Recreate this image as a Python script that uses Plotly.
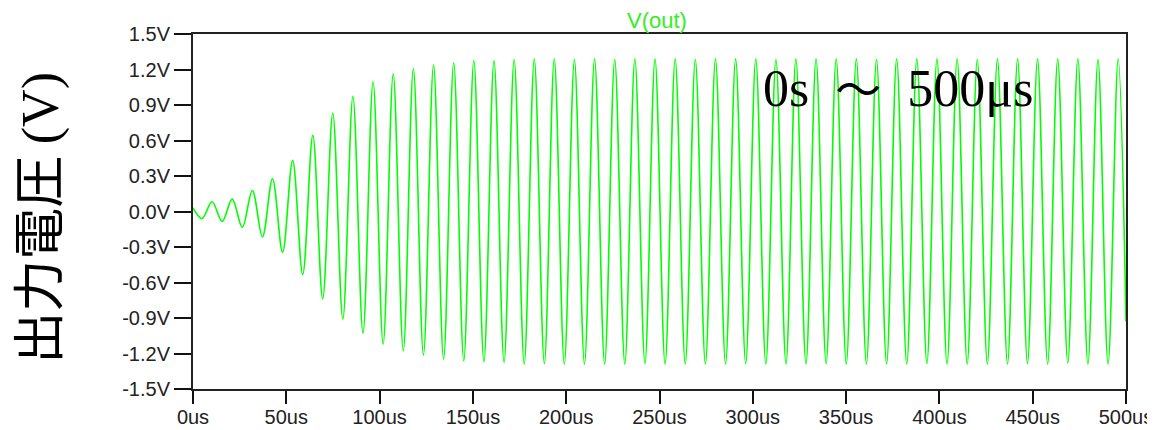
import plotly.graph_objects as go

# Extrema of the V(out) waveform (time in us, value in V)
t_us = [0.0, 4.8, 10.2, 15.6, 21.0, 26.4, 31.8, 37.2, 42.6, 48.0, 53.4,
        58.8, 64.2, 69.5, 74.9, 80.3, 85.7, 91.1, 96.5, 101.9, 107.3,
        112.7, 118.1, 123.5, 128.9, 134.3, 139.7, 145.1, 150.5, 155.9, 161.3,
        166.7, 172.1, 177.5, 182.9, 188.3, 193.6, 199.0, 204.4, 209.8, 215.2,
        220.6, 226.0, 231.4, 236.8, 242.2, 247.6, 253.0, 258.4, 263.8, 269.2,
        274.6, 280.0, 285.4, 290.8, 296.2, 301.6, 307.0, 312.4, 317.8, 323.1,
        328.5, 333.9, 339.3, 344.7, 350.1, 355.5, 360.9, 366.3, 371.7, 377.1,
        382.5, 387.9, 393.3, 398.7, 404.1, 409.5, 414.9, 420.3, 425.7, 431.1,
        436.5, 441.9, 447.2, 452.6, 458.0, 463.4, 468.8, 474.2, 479.6, 485.0,
        490.4, 495.8, 500.0]

v_out = [0.03, -0.06, 0.082, -0.084, 0.105, -0.134, 0.177, -0.215, 0.277, -0.345, 0.432,
         -0.532, 0.643, -0.739, 0.832, -0.909, 0.974, -1.028, 1.096, -1.121, 1.163,
         -1.178, 1.208, -1.214, 1.237, -1.248, 1.257, -1.263, 1.276, -1.271, 1.276,
         -1.276, 1.285, -1.29, 1.29, -1.285, 1.29, -1.29, 1.285, -1.29, 1.29,
         -1.29, 1.285, -1.29, 1.29, -1.285, 1.29, -1.29, 1.29, -1.29, 1.285,
         -1.29, 1.29, -1.29, 1.29, -1.285, 1.29, -1.29, 1.285, -1.29, 1.29,
         -1.29, 1.29, -1.285, 1.29, -1.29, 1.29, -1.29, 1.285, -1.29, 1.29,
         -1.29, 1.29, -1.285, 1.29, -1.29, 1.29, -1.29, 1.285, -1.29, 1.29,
         -1.29, 1.29, -1.285, 1.29, -1.29, 1.29, -1.28, 1.29, -1.29, 1.285,
         -1.29, 1.29, -0.93]

y_ticks = [1.5, 1.2, 0.9, 0.6, 0.3, 0.0, -0.3, -0.6, -0.9, -1.2, -1.5]
y_tick_labels = ["1.5V", "1.2V", "0.9V", "0.6V", "0.3V", "0.0V",
                 "-0.3V", "-0.6V", "-0.9V", "-1.2V", "-1.5V"]
x_ticks = [0, 50, 100, 150, 200, 250, 300, 350, 400, 450, 500]
x_tick_labels = ["0us", "50us", "100us", "150us", "200us", "250us",
                 "300us", "350us", "400us", "450us", "500us"]

fig = go.Figure()
fig.add_trace(go.Scatter(
    x=t_us, y=v_out, mode="lines",
    line=dict(color="#00ff00", width=1.6, shape="spline", smoothing=1.0),
    hoverinfo="skip", showlegend=False,
))

tick_font = dict(family="Liberation Sans, Arial, sans-serif", size=20, color="#222222")

# page body has an 8px margin, so the figure is sized to fit inside it
fig.update_layout(
    width=1147, height=422,
    margin=dict(l=185, r=29, t=26, b=41, autoexpand=False),
    paper_bgcolor="white", plot_bgcolor="white",
    showlegend=False,
    xaxis=dict(
        range=[0, 500], tickmode="array", tickvals=x_ticks, ticktext=x_tick_labels,
        ticks="outside", ticklen=13, tickwidth=1.5, tickcolor="#111111",
        ticklabelstandoff=-4,
        showline=True, linecolor="#222222", linewidth=2, mirror=True,
        showgrid=False, zeroline=False, tickfont=tick_font, automargin=False,
    ),
    yaxis=dict(
        range=[-1.5, 1.5], tickmode="array", tickvals=y_ticks, ticktext=y_tick_labels,
        ticks="outside", ticklen=17, tickwidth=1.5, tickcolor="#111111",
        showline=True, linecolor="#222222", linewidth=2, mirror=True,
        showgrid=False, zeroline=False, tickfont=tick_font, automargin=False,
    ),
    annotations=[
        dict(text="V(out)", xref="paper", yref="paper", x=0.4975, y=1.038,
             xanchor="center", yanchor="middle", showarrow=False,
             font=dict(family="Liberation Sans, Arial, sans-serif", size=22, color="#33ee22")),
        dict(text="0s  <span style='font-family:\"Noto Sans CJK JP\";font-size:46px'>～</span>  500μs",
             xref="paper", yref="paper", x=0.756, y=0.854,
             xanchor="center", yanchor="middle", showarrow=False,
             font=dict(family="Liberation Serif, Times New Roman, serif", size=52, color="black")),
        dict(text="出力電圧 <span style='font-family:\"Liberation Serif\"'>(V)</span>",
             xref="paper", yref="paper", x=-0.169, y=0.483, textangle=-90,
             xanchor="center", yanchor="middle", showarrow=False,
             font=dict(family="Noto Sans CJK JP, sans-serif", size=52, color="black")),
    ],
)

fig.write_html("out.html")
